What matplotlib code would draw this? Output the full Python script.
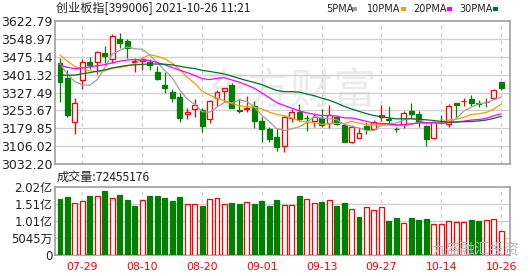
import matplotlib
matplotlib.use('Agg')
import matplotlib.pyplot as plt
import pandas as pd
from matplotlib.patches import Rectangle

plt.rcParams['font.family'] = ['DejaVu Sans', 'Noto Sans CJK SC']

title = '创业板指[399006] 2021-10-26 11:21'
vol_title = '成交量:72455176'

dates = ['07-26', '07-27', '07-28', '07-29', '07-30', '08-02', '08-03', '08-04', '08-05', '08-06',
         '08-09', '08-10', '08-11', '08-12', '08-13', '08-16', '08-17', '08-18', '08-19', '08-20',
         '08-23', '08-24', '08-25', '08-26', '08-27', '08-30', '08-31', '09-01', '09-02', '09-03',
         '09-06', '09-07', '09-08', '09-09', '09-10', '09-13', '09-14', '09-15', '09-16', '09-17',
         '09-22', '09-23', '09-24', '09-27', '09-28', '09-29', '09-30', '10-08', '10-11', '10-12',
         '10-13', '10-14', '10-15', '10-18', '10-19', '10-20', '10-21', '10-22', '10-25', '10-26']
tick_dates = ['07-29', '08-10', '08-20', '09-01', '09-13', '09-27', '10-14', '10-26']

# closes before the window (estimated from the moving-average lines)
prior_closes = [3260, 3275, 3290, 3300, 3310, 3320, 3335, 3350, 3370, 3390,
                3400, 3408, 3380, 3370, 3385, 3395, 3405, 3400, 3412, 3425,
                3490, 3505, 3540, 3535, 3525, 3445, 3438, 3520, 3449]

opens = [3448, 3386, 3205, 3379.5, 3452, 3452, 3489.4, 3464.7, 3548.5, 3541,
         3455, 3457, 3455, 3412, 3358.8, 3329, 3310.7, 3239.2, 3259.9, 3255.7,
         3218.6, 3303.9, 3334.1, 3358.8, 3254.5, 3259, 3271, 3210.4, 3176, 3144.4,
         3104.5, 3221.4, 3249, 3223, 3210.4, 3221.4, 3200.7, 3228.2, 3194, 3122.4,
         3141.6, 3189.8, 3177.4, 3228.2, 3217.2, 3178, 3193.9, 3253, 3237.9, 3189.8,
         3138.9, 3211, 3196.6, 3283.2, 3292, 3299.7, 3284, 3289, 3303.9, 3369.8]
highs = [3469, 3421, 3304, 3465, 3476, 3499, 3520, 3568, 3572, 3548.5,
         3469, 3476, 3464, 3438, 3414, 3342, 3324.5, 3264, 3301, 3262.6,
         3297, 3338, 3347.8, 3365.7, 3300, 3311, 3293, 3228, 3187, 3180,
         3235, 3258.5, 3279, 3235, 3238, 3258.5, 3274, 3231, 3201, 3194,
         3180, 3207.6, 3214.5, 3276.3, 3273.6, 3187, 3253, 3283.2, 3253, 3194,
         3210.4, 3235, 3280.5, 3284, 3306.6, 3317.6, 3297, 3304, 3342.3, 3372.6]
lows = [3290, 3228, 3156, 3342, 3425, 3403, 3448, 3451, 3510, 3472,
        3414, 3421, 3421, 3380, 3327, 3287, 3207.6, 3217, 3228, 3163,
        3200.7, 3271, 3290, 3262.6, 3243, 3245, 3180, 3125, 3122, 3084,
        3081, 3205, 3210.4, 3169, 3187, 3183, 3180, 3194, 3125, 3118,
        3139, 3157, 3173, 3210.4, 3200.7, 3163.6, 3180, 3221.4, 3187, 3104.5,
        3137, 3200.7, 3187, 3228.2, 3273.6, 3273.6, 3269.5, 3269.5, 3301.1, 3338.2]
closes = [3372.6, 3235.1, 3283.2, 3455, 3441.3, 3493.6, 3478.4, 3562.3, 3533.4, 3510,
          3458, 3466, 3442, 3383.6, 3345.1, 3303.9, 3224.1, 3246.1, 3276.3, 3191.1,
          3292.9, 3328.6, 3345.1, 3265.4, 3252, 3262, 3211.6, 3176, 3136, 3101.8,
          3226.9, 3246.1, 3218.6, 3221, 3228.2, 3193.9, 3235.1, 3198, 3125.1, 3187,
          3160.9, 3177.4, 3204.9, 3235.1, 3213.1, 3176, 3242, 3239.2, 3204.9, 3136.1,
          3204.9, 3209, 3270, 3274, 3294, 3286, 3282, 3287, 3336.9, 3347.8]
volumes_yi = [1.66, 1.73, 1.53, 1.60, 1.76, 1.76, 1.90, 1.69, 1.78, 1.63,
              1.46, 1.62, 1.76, 1.76, 1.70, 1.60, 1.73, 1.50, 1.50, 1.46,
              1.66, 1.69, 1.50, 1.54, 1.51, 1.56, 1.51, 1.60, 1.46, 1.63,
              1.48, 1.48, 1.76, 1.65, 1.53, 1.57, 1.62, 1.46, 1.54, 1.365,
              1.137, 1.42, 1.335, 1.42, 1.01, 1.10, 0.95, 1.10, 1.04, 1.07,
              0.92, 0.92, 1.00, 0.98, 0.98, 1.04, 1.01, 1.04, 1.07, 0.7246]

price_ticks = [3032.20, 3106.02, 3179.85, 3253.67, 3327.49, 3401.32, 3475.14, 3548.97, 3622.79]
vol_ticks_yi = [0, 0.5045, 1.009, 1.5135, 2.018]
vol_tick_labels = ['0', '5045万', '1.01亿', '1.51亿', '2.02亿']

ma_names = ['5PMA', '10PMA', '20PMA', '30PMA']
ma_periods = [5, 10, 20, 30]
ma_colors = ['#a0a0a0', '#f0a000', '#ff00ff', '#006f2e']

RED = '#ff0000'
GREEN = '#008000'
GRID = '#cfcfcf'
BORDER = '#a0a0a0'

W, H = 530, 276
fig = plt.figure(figsize=(W / 100, H / 100), dpi=100)
fig.patch.set_facecolor('white')

def fx(px):
    return px / W

def fy(py):
    return 1 - py / H

L, R = 55, 509.5
ax = fig.add_axes([fx(L), fy(164), fx(R - L), fy(21) - fy(164)])
axv = fig.add_axes([fx(L), fy(255), fx(R - L), fy(187) - fy(255)])

n = len(closes)
xs = list(range(n))
tick_pos = [dates.index(d) for d in tick_dates]
width = 0.66

# moving averages
full = pd.Series(prior_closes + closes, dtype=float)
for name, per, col in zip(ma_names, ma_periods, ma_colors):
    ma = full.rolling(per).mean().iloc[len(prior_closes):].to_numpy()
    ax.plot(xs, ma, color=col, lw=0.9, zorder=5)

# candles
for i in xs:
    o, h, l, c = opens[i], highs[i], lows[i], closes[i]
    up = c >= o
    col = RED if up else GREEN
    top, bot = max(o, c), min(o, c)
    body = max(top - bot, 1.2)
    ax.vlines(i, l, h, color=col, lw=0.9, zorder=3)
    if up:
        ax.bar(i, body, bottom=bot, width=width, facecolor='white', edgecolor=col, lw=0.9, zorder=4)
    else:
        ax.bar(i, body, bottom=bot, width=width, facecolor=col, edgecolor=col, lw=0.9, zorder=4)

# volume bars (colour by close vs previous close)
prev = [prior_closes[-1]] + closes[:-1]
for i in xs:
    up = closes[i] >= prev[i]
    if up:
        axv.bar(i, volumes_yi[i], width=width, facecolor='white', edgecolor=RED, lw=0.9, zorder=3)
    else:
        axv.bar(i, volumes_yi[i], width=width, facecolor=GREEN, edgecolor=GREEN, lw=0.9, zorder=3)

x0 = -0.67
x1 = x0 + (R - L) / 7.475
for a in (ax, axv):
    a.set_xlim(x0, x1)
    a.set_facecolor('white')
    for s in a.spines.values():
        s.set_color(BORDER)
        s.set_linewidth(1.2)
    for p in tick_pos:
        a.axvline(p, color=GRID, lw=0.9, ls=(0, (3, 3)), zorder=1)
    a.tick_params(length=0)

ax.set_ylim(price_ticks[0], price_ticks[-1])
ax.set_yticks(price_ticks)
ax.set_yticklabels([f'{v:.2f}' for v in price_ticks], fontsize=9, color='#222222')
ax.tick_params(axis='y', pad=2)
ax.set_xticks([])
for v in price_ticks[1:-1]:
    ax.axhline(v, color=GRID, lw=0.9, zorder=1)

axv.set_ylim(0, vol_ticks_yi[-1])
axv.set_yticks(vol_ticks_yi)
axv.set_yticklabels(vol_tick_labels, fontsize=8.5, color='#222222')
axv.tick_params(axis='y', pad=2)
axv.set_xticks(tick_pos)
axv.set_xticklabels(tick_dates, fontsize=7.8, color=RED)
axv.tick_params(axis='x', pad=5)
for v in vol_ticks_yi[1:-1]:
    axv.axhline(v, color=GRID, lw=0.9, zorder=1)

# watermark
ax.text(0.52, 0.5, '东方财富', transform=ax.transAxes, fontsize=31, color='#ebebeb',
        family=['Noto Sans CJK SC'], ha='center', va='center', zorder=0.5)
fig.text(fx(475), fy(250), '九盛融汇投资', fontsize=10.5, color='#b8b8b8',
         family=['Noto Sans CJK SC'], ha='center', va='center', zorder=10)

# titles
fig.text(fx(56), fy(8.5), title, fontsize=8.7, color='#222222', ha='left', va='center',
         family=['Noto Sans CJK SC'])
fig.text(fx(57), fy(177.5), vol_title, fontsize=8.7, color='#222222', ha='left', va='center',
         family=['Noto Sans CJK SC'])

# legend
leg_x = [326, 367, 413, 459]
sq_x = [352, 401, 447, 493]
for name, lx, sx, col in zip(ma_names, leg_x, sq_x, ma_colors):
    fig.text(fx(lx), fy(8.5), name, fontsize=7, color='#222222', ha='left', va='center')
    fig.add_artist(Rectangle((fx(sx), fy(11)), fx(5), fy(7) - fy(11), transform=fig.transFigure,
                             facecolor=col, edgecolor='none'))

fig.savefig('out.png', dpi=100, facecolor='white')
